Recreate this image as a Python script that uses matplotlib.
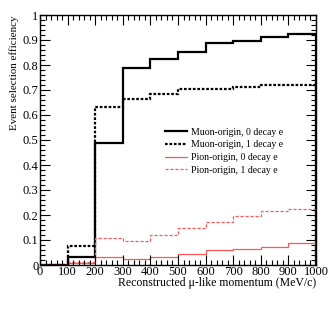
import matplotlib
matplotlib.use("Agg")
import matplotlib.pyplot as plt
import numpy as np
from matplotlib.ticker import MultipleLocator

edges = [0, 100, 200, 300, 400, 500, 600, 700, 800, 900, 1000]
muon_0e = [0.0, 0.031, 0.489, 0.789, 0.825, 0.852, 0.889, 0.897, 0.912, 0.924]
muon_1e = [0.0, 0.076, 0.632, 0.665, 0.683, 0.705, 0.705, 0.713, 0.721, 0.719]
pion_0e = [0.002, 0.010, 0.033, 0.025, 0.033, 0.043, 0.059, 0.065, 0.071, 0.088]
pion_1e = [0.002, 0.012, 0.108, 0.097, 0.121, 0.147, 0.172, 0.197, 0.215, 0.225]
labels = ["Muon-origin, 0 decay e", "Muon-origin, 1 decay e",
          "Pion-origin, 0 decay e", "Pion-origin, 1 decay e"]
yticklabels = ['0', '0.1', '0.2', '0.3', '0.4', '0.5', '0.6', '0.7', '0.8', '0.9', '1']

plt.rcParams['font.family'] = ['Liberation Serif', 'DejaVu Serif']

W, H = 332, 316
fig = plt.figure(figsize=(W/100, H/100), dpi=100)
ax = fig.add_axes([40/W, (H-265)/H, 276/W, 250/H])

ax.stairs(muon_0e, edges, color='black', lw=1.6, label=labels[0])
ax.stairs(muon_1e, edges, color='black', lw=1.6, ls=(0, (1.2, 0.8)), label=labels[1])
ax.stairs(pion_0e, edges, color='#ff5555', lw=0.9, label=labels[2])
ax.stairs(pion_1e, edges, color='#ff5555', lw=0.9, ls=(0, (2.5, 1.5)), label=labels[3])

ax.set_xlim(0, 1000)
ax.set_ylim(0, 1.0)
ax.xaxis.set_major_locator(MultipleLocator(100))
ax.xaxis.set_minor_locator(MultipleLocator(20))
ax.yaxis.set_minor_locator(MultipleLocator(0.02))
ax.set_yticks(np.arange(0, 1.01, 0.1))
ax.set_yticklabels(yticklabels)
ax.tick_params(which='both', direction='in', top=True, right=True, labelsize=9, pad=1)
ax.tick_params(which='major', length=7, width=0.8)
ax.tick_params(which='minor', length=3.5, width=0.8)
for s in ax.spines.values():
    s.set_linewidth(1.0)

ax.set_xlabel("Reconstructed μ-like momentum (MeV/c)", fontsize=8.5, loc='right', labelpad=-1)
ax.set_ylabel("Event selection efficiency", fontsize=7.9, loc='top', labelpad=3)

leg = ax.legend(loc='upper left', bbox_to_anchor=(0.44, 0.565), frameon=False, fontsize=7,
                handlelength=2.2, handletextpad=0.4, labelspacing=0.38, borderaxespad=0)

fig.savefig("out.png", dpi=100)
